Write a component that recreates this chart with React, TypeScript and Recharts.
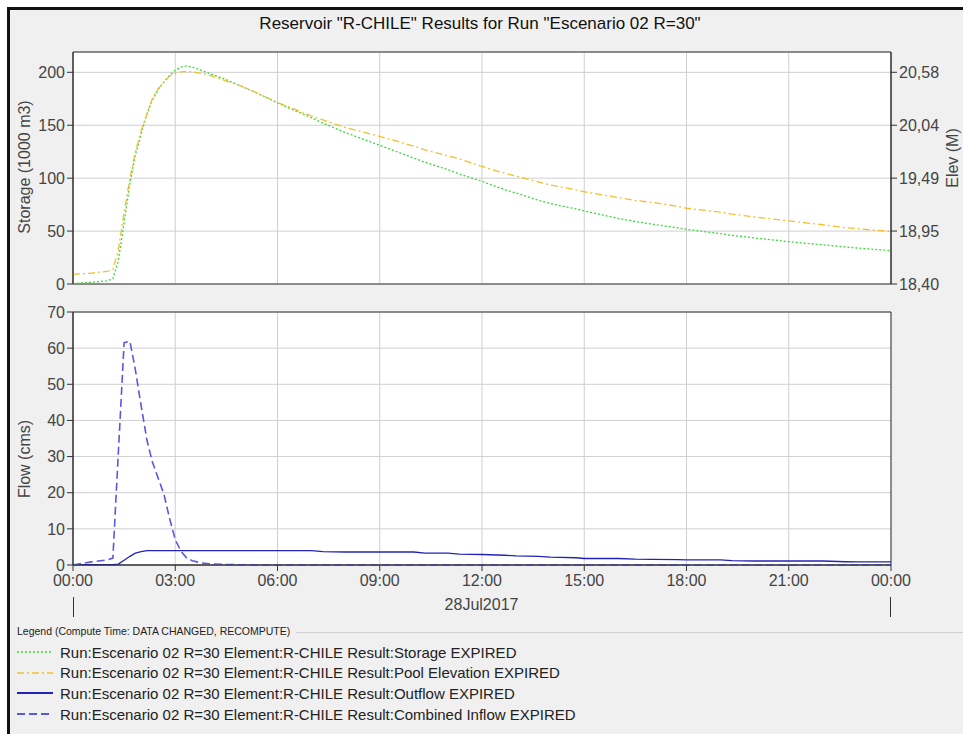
import React from 'react';
import { LineChart, Line, XAxis, YAxis, CartesianGrid, ReferenceArea } from 'recharts';

// simulation time (hours from 00:00, 28Jul2017)
const hours = [
  0, 0.5, 1, 1.17, 1.33, 1.5, 1.67, 1.83, 2, 2.17, 2.33, 2.5, 2.67, 2.83, 3, 3.17, 3.33, 3.5, 3.75, 4,
  4.5, 5, 5.5, 6, 7, 7.33, 8, 9, 10, 10.33, 11, 11.33, 12, 12.67, 13, 13.67, 14, 14.75, 15, 16,
  16.5, 17, 17.75, 18, 19, 19.33, 20, 21, 22, 22.67, 23, 24,
];

// storage (1000 m3)
const storage = [
  0.5, 1.5, 3, 5, 22, 58, 95, 122, 142, 161, 174, 184, 191, 197, 202, 205, 206, 205, 202, 199,
  193, 186, 179, 171, 157, 152, 143, 131, 119, 115, 108, 104, 97, 89, 86, 79, 76, 71, 69, 62,
  59, 56.5, 53, 51.7, 47.5, 46, 43.5, 40, 37, 35, 34, 31.5,
];

// pool elevation (m)
const poolElevation = [
  18.5, 18.51, 18.53, 18.55, 18.75, 19.14, 19.49, 19.76, 19.98, 20.15, 20.31, 20.41, 20.48, 20.54, 20.57, 20.585, 20.59, 20.585, 20.57, 20.55,
  20.49, 20.43, 20.35, 20.27, 20.13, 20.09, 20.01, 19.92, 19.82, 19.78, 19.72, 19.69, 19.61, 19.54, 19.51, 19.45, 19.42, 19.37, 19.35, 19.29,
  19.26, 19.24, 19.2, 19.18, 19.14, 19.12, 19.09, 19.05, 19.01, 18.98, 18.97, 18.94,
];

// outflow (cms)
const outflow = [
  0.1, 0.1, 0.1, 0.1, 0.25, 1.3, 2.4, 3.3, 3.7, 4, 4, 4, 4, 4, 4, 4, 4, 4, 4, 4,
  4, 4, 4, 4, 4, 3.7, 3.6, 3.6, 3.6, 3.3, 3.3, 3, 2.9, 2.7, 2.5, 2.4, 2.2, 2, 1.8, 1.8,
  1.6, 1.55, 1.5, 1.4, 1.4, 1.2, 1.1, 1.1, 1.1, 0.9, 0.85, 0.85,
];

// combined inflow (cms)
const combinedInflow = [
  0, 0.8, 1.4, 1.9, 31, 61.5, 61.9, 54, 44, 34.5, 28.5, 24, 19.5, 13, 7, 3.8, 2, 1.2, 0.6, 0.35,
  0.15, 0.05, 0, 0, 0, 0, 0, 0, 0, 0, 0, 0, 0, 0, 0, 0, 0, 0, 0, 0,
  0, 0, 0, 0, 0, 0, 0, 0, 0, 0, 0, 0,
];

const timeTicks = [0, 3, 6, 9, 12, 15, 18, 21, 24];
const timeTickLabels = ['00:00', '03:00', '06:00', '09:00', '12:00', '15:00', '18:00', '21:00', '00:00'];
const storageTicks = [0, 50, 100, 150, 200];
const elevTicks = [18.4, 18.945, 19.49, 20.035, 20.58];
const elevTickLabels = ['18,40', '18,95', '19,49', '20,04', '20,58'];
const flowTicks = [0, 10, 20, 30, 40, 50, 60, 70];

const legendLabels = [
  'Run:Escenario 02 R=30 Element:R-CHILE Result:Storage EXPIRED',
  'Run:Escenario 02 R=30 Element:R-CHILE Result:Pool Elevation EXPIRED',
  'Run:Escenario 02 R=30 Element:R-CHILE Result:Outflow EXPIRED',
  'Run:Escenario 02 R=30 Element:R-CHILE Result:Combined Inflow EXPIRED',
];

const STORAGE_MAX = 219.2;
const ELEV_MIN = 18.4;
const ELEV_MAX = 20.789;

const font = '"Liberation Sans", Arial, sans-serif';
const tickStyle = { fontSize: 16, fill: '#444', fontFamily: font };
const gridColor = '#cfcfcf';
const frameColor = '#333';

const lineStyles = [
  { stroke: '#3cd83c', dash: '2 2', width: 1.3 },
  { stroke: '#f2c030', dash: '7 3 2 3', width: 1.3 },
  { stroke: '#2323b8', dash: undefined, width: 1.3 },
  { stroke: '#5858e4', dash: '8 4', width: 1.6 },
];

const rows = hours.map((h, i) => ({
  hour: h,
  storage: storage[i],
  elevation: poolElevation[i],
  outflow: outflow[i],
  inflow: combinedInflow[i],
}));

const AxisTitle = ({ text, x, y }: { text: string; x: number; y: number }) => (
  <div
    style={{
      position: 'absolute',
      left: x,
      top: y,
      transform: 'translate(-50%, -50%) rotate(-90deg)',
      whiteSpace: 'nowrap',
      fontSize: 16,
      lineHeight: 1,
      color: '#444',
    }}
  >
    {text}
  </div>
);

const App = () => {
  return (
    <div
      style={{
        position: 'absolute',
        left: 0,
        top: 0,
        width: 963,
        height: 734,
        background: '#fff',
        overflow: 'hidden',
        fontFamily: font,
      }}
    >
      {/* panel frame */}
      <div
        style={{
          position: 'absolute',
          left: 7,
          top: 7,
          width: 960,
          height: 730,
          background: '#f0f0f0',
          borderTop: '3px solid #111',
          borderLeft: '3px solid #111',
        }}
      />

      <div style={{ position: 'absolute', left: 0, top: 14, width: 960, textAlign: 'center', fontSize: 17, color: '#111' }}>
        Reservoir "R-CHILE" Results for Run "Escenario 02 R=30"
      </div>

      {/* storage / elevation */}
      <div style={{ position: 'absolute', left: 0, top: 0 }}>
        <LineChart width={963} height={300} data={rows} margin={{ top: 52, right: 0, bottom: 15, left: 0 }}>
          <CartesianGrid yAxisId="storage" stroke={gridColor} fill="#fff" />
          <XAxis
            dataKey="hour"
            type="number"
            domain={[0, 24]}
            ticks={timeTicks}
            interval={0}
            height={1}
            tick={() => <g />}
            tickLine={false}
            axisLine={false}
          />
          <YAxis
            yAxisId="storage"
            domain={[0, STORAGE_MAX]}
            ticks={storageTicks}
            interval={0}
            width={73}
            tickSize={6}
            tick={tickStyle}
            stroke={frameColor}
            allowDataOverflow
          />
          <YAxis
            yAxisId="elev"
            orientation="right"
            domain={[ELEV_MIN, ELEV_MAX]}
            ticks={elevTicks}
            interval={0}
            width={72}
            tickSize={6}
            tick={tickStyle}
            stroke={frameColor}
            tickFormatter={(v: number, i: number) => elevTickLabels[i]}
            allowDataOverflow
          />
          <Line
            yAxisId="storage"
            dataKey="storage"
            type="linear"
            dot={false}
            stroke={lineStyles[0].stroke}
            strokeDasharray={lineStyles[0].dash}
            strokeWidth={lineStyles[0].width}
            isAnimationActive={false}
          />
          <Line
            yAxisId="elev"
            dataKey="elevation"
            type="linear"
            dot={false}
            stroke={lineStyles[1].stroke}
            strokeDasharray={lineStyles[1].dash}
            strokeWidth={lineStyles[1].width}
            isAnimationActive={false}
          />
          <ReferenceArea yAxisId="storage" x1={0} x2={24} y1={0} y2={STORAGE_MAX} fill="none" stroke={frameColor} />
        </LineChart>
      </div>

      {/* flows */}
      <div style={{ position: 'absolute', left: 0, top: 300 }}>
        <LineChart width={963} height={320} data={rows} margin={{ top: 12, right: 72, bottom: 0, left: 0 }}>
          <CartesianGrid stroke={gridColor} fill="#fff" />
          <XAxis
            dataKey="hour"
            type="number"
            domain={[0, 24]}
            ticks={timeTicks}
            interval={0}
            height={55}
            tickSize={6}
            tickMargin={4}
            tick={tickStyle}
            stroke={frameColor}
            tickFormatter={(v: number, i: number) => timeTickLabels[i]}
          />
          <YAxis
            domain={[0, 70]}
            ticks={flowTicks}
            interval={0}
            width={73}
            tickSize={6}
            tick={tickStyle}
            stroke={frameColor}
          />
          <Line
            dataKey="outflow"
            type="linear"
            dot={false}
            stroke={lineStyles[2].stroke}
            strokeWidth={lineStyles[2].width}
            isAnimationActive={false}
          />
          <Line
            dataKey="inflow"
            type="linear"
            dot={false}
            stroke={lineStyles[3].stroke}
            strokeDasharray={lineStyles[3].dash}
            strokeWidth={lineStyles[3].width}
            isAnimationActive={false}
          />
          <ReferenceArea x1={0} x2={24} y1={0} y2={70} fill="none" stroke={frameColor} />
        </LineChart>
      </div>

      <AxisTitle text="Storage (1000 m3)" x={25} y={167} />
      <AxisTitle text="Elev (M)" x={953} y={158} />
      <AxisTitle text="Flow (cms)" x={25} y={459} />

      {/* day markers under the time axis */}
      <div style={{ position: 'absolute', left: 73, top: 597, width: 1, height: 20, background: frameColor }} />
      <div style={{ position: 'absolute', left: 890, top: 597, width: 1, height: 20, background: frameColor }} />
      <div style={{ position: 'absolute', left: 0, top: 596, width: 963, textAlign: 'center', fontSize: 16, color: '#444' }}>
        28Jul2017
      </div>

      {/* legend */}
      <div style={{ position: 'absolute', left: 17, top: 625, fontSize: 10.5, color: '#222', whiteSpace: 'nowrap' }}>
        Legend (Compute Time: DATA CHANGED, RECOMPUTE)
      </div>
      <div style={{ position: 'absolute', left: 296, top: 632, width: 670, height: 1, background: '#d0d0d0' }} />
      {legendLabels.map((label, i) => (
        <div
          key={label}
          style={{ position: 'absolute', left: 17, top: 642 + i * 20.7, height: 20, display: 'flex', alignItems: 'center' }}
        >
          <svg width={36} height={6} style={{ marginRight: 7 }}>
            <line
              x1={0}
              y1={3}
              x2={36}
              y2={3}
              stroke={lineStyles[i].stroke}
              strokeDasharray={lineStyles[i].dash}
              strokeWidth={i > 1 ? 2 : 1.3}
            />
          </svg>
          <span style={{ fontSize: 15, color: '#222', whiteSpace: 'nowrap' }}>{label}</span>
        </div>
      ))}
    </div>
  );
};

export default App;
